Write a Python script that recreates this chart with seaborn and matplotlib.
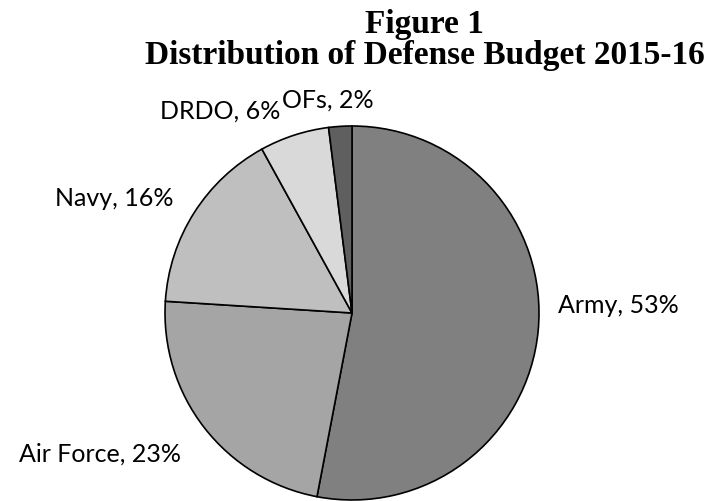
import matplotlib
matplotlib.use("Agg")
import matplotlib.pyplot as plt
import seaborn as sns

# Defense budget shares, 2015-16 (percent)
categories = ["Army", "Air Force", "Navy", "DRDO", "OFs"]
shares = [53, 23, 16, 6, 2]
slice_colors = ["#808080", "#a5a5a5", "#bfbfbf", "#d9d9d9", "#5f5f5f"]

sns.set_theme(style="white")
plt.rcParams["font.family"] = ["Lato", "DejaVu Sans"]

fig = plt.figure(figsize=(7.2, 5.02), dpi=100)
ax = fig.add_axes([0, 0, 1, 1])

ax.pie(
    shares,
    colors=sns.color_palette(slice_colors),
    startangle=90,
    counterclock=False,
    wedgeprops=dict(edgecolor="black", linewidth=1.2),
)
ax.set_xlim(-1.8824, 1.9679)
ax.set_ylim(-1.0054, 1.6791)
ax.set_aspect("auto")
ax.axis("off")

# Category labels: (x, y, horizontal alignment)
label_pos = {
    "Army": (1.425, 0.005, "center"),
    "Air Force": (-1.348, -0.791, "center"),
    "Navy": (-1.273, 0.578, "center"),
    "DRDO": (-0.385, 1.043, "right"),
    "OFs": (-0.374, 1.102, "left"),
}
for name, val in zip(categories, shares):
    x, y, ha = label_pos[name]
    ax.text(x, y, f"{name}, {val}%", ha=ha, va="baseline",
            fontsize=18, color="black")

title_font = dict(family=["Liberation Serif", "DejaVu Serif"],
                  fontweight="bold", fontsize=24, color="black")
fig.text(0.590, 0.934, "Figure 1", ha="center", va="baseline", **title_font)
fig.text(0.590, 0.872, "Distribution of Defense Budget 2015-16",
         ha="center", va="baseline", **title_font)

fig.savefig("out.png", dpi=100, facecolor="white")
